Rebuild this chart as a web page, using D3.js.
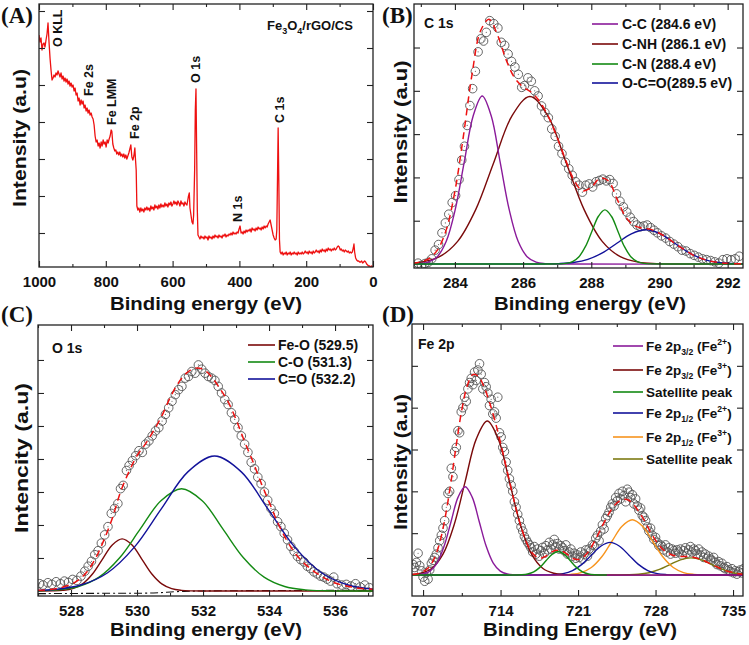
<!DOCTYPE html>
<html><head><meta charset="utf-8">
<script src="https://cdn.jsdelivr.net/npm/d3@7"></script>
<style>
body{margin:0;background:#fff;}
svg{font-family:"Liberation Sans",Arial,Helvetica,sans-serif;}
</style></head><body>
<svg id="chart" width="749" height="645"></svg>
<script>
// ---------------- (A) survey spectrum ----------------
const surveyTicks = [1000, 800, 600, 400, 200, 0];
const surveyMinor = [900, 700, 500, 300, 100];
const surveySpectrum = [
[1000,235],[997,228],[994,232],[991,220],[988,226],[985,227],[982,223],[979,230],[976,236],[973,247],[970,228],[967,212],[964,200],[961,190],[958,192],[955,195],[952,193],[949,197],[946,195],[943,199],[940,196],[937,193],[934,197],[931,191],[928,194],[925,189],[922,192],[919,188],[916,191],[913,186],[910,189],[907,184],[904,187],[901,183],[898,185],[895,179],[892,182],[889,175],[886,177],[883,169],[880,172],[877,165],[874,170],[871,166],[868,169],[865,162],[862,165],[859,159],[856,162],[853,157],[850,160],[847,155],[844,157],[841,153],[838,151],[835,145],[832,134],[829,128],[826,130],[823,124],[820,127],[817,122],[814,128],[811,124],[808,130],[805,126],[802,128],[799,123],[796,130],[793,127],[790,131],[787,134],[784,140],[782,139],[779,126],[776,122],[773,119],[770,120],[767,116],[764,118],[761,115],[758,118],[755,114],[752,116],[749,113],[746,116],[743,112],[740,115],[737,111],[734,114],[731,117],[728,121],[725,125],[722,113],[719,110],[716,114],[713,122],[711,110],[709,100],[707,64],
[704,60],[701,62],[698,58],[695,62],[692,59],[689,61],[686,58],[683,62],[680,60],[677,63],[674,60],[671,62],[668,59],[665,64],[662,61],[659,63],[656,60],[653,65],[650,62],[647,64],[644,61],[641,65],[638,62],[635,66],[632,63],[629,65],[626,63],[623,67],[620,64],[617,66],[614,63],[611,67],[608,65],[605,68],[602,64],[599,66],[596,69],[593,66],[590,68],[587,65],[584,69],[581,67],[578,64],[575,69],[572,66],[569,67],[566,64],[563,68],[560,66],[557,65],[553,73],[550,77],[548,62],[545,55],[542,48],[539,46],[537,55],[534,100],[532,160],[530,181],[528,120],[526,60],[524,35],
[521,33],[518,31],[515,34],[512,32],[509,33],[506,31],[503,34],[500,32],[497,33],[494,30],[491,34],[488,32],[485,33],[482,31],[479,34],[476,32],[473,35],[470,33],[467,34],[464,32],[461,35],[458,33],[455,34],[452,32],[449,35],[446,34],[443,36],[440,33],[437,35],[434,34],[431,36],[428,35],[425,37],[422,35],[419,38],[416,36],[413,37],[410,36],[407,38],[404,37],[401,41],[398,44],[395,37],[392,38],[389,36],[386,39],[383,37],[380,40],[377,38],[374,40],[371,39],[368,41],[365,38],[362,42],[359,40],[356,41],[353,39],[350,42],[347,40],[344,43],[341,41],[338,42],[335,40],[332,43],[329,41],[326,44],[323,42],[320,44],[317,43],[314,46],[311,48],[308,50],[305,45],[302,40],[299,35],[296,32],[293,30],[290,31],[288,40],[286,90],[284,142],[282,90],[280,30],[278,18],
[275,16],[272,18],[269,15],[266,17],[263,16],[260,18],[257,15],[254,17],[251,16],[248,18],[245,15],[242,17],[239,16],[236,18],[233,16],[230,17],[227,15],[224,18],[221,16],[218,17],[215,16],[212,18],[209,16],[206,17],[203,19],[200,17],[197,18],[194,16],[191,19],[188,17],[185,18],[182,16],[179,19],[176,17],[173,18],[170,20],[167,18],[164,19],[161,17],[158,20],[155,18],[152,21],[149,19],[146,20],[143,18],[140,21],[137,19],[134,22],[131,20],[128,21],[125,19],[122,21],[119,20],[116,22],[113,20],[110,21],[107,23],[104,24],[101,23],[98,20],[95,21],[92,19],[89,20],[86,18],[83,20],[80,19],[77,18],[74,19],[71,17],[68,18],[65,17],[62,18],[59,22],[57,26],[55,18],[52,12],[49,10],[46,9],[43,9],[40,8],[37,8],[34,9],[31,7],[28,8],[25,9],[22,8],[19,6],[16,5],[13,4],[10,4],[7,3],[4,4],[1,3],[0,3]];
const surveyPeakNames = ["O KLL", "Fe 2s", "Fe LMM", "Fe 2p", "O 1s", "N 1s", "C 1s"];
const surveyPeakEnergy = [946, 853, 784, 713, 530, 407, 281];
const surveyPeakLevel = [223, 174, 145, 131, 187, 48, 147];

// ---------------- (B) C 1s ----------------
const c1sTicks = [284, 286, 288, 290, 292];
const c1sMinor = [283, 285, 287, 289, 291];
const c1sData = [[282.92,0.02],[283.02,-0.03],[283.12,0.01],[283.22,0.04],[283.32,0.12],[283.42,0.32],[283.52,0.45],[283.62,0.72],[283.72,0.95],[283.82,1.15],[283.92,1.42],[284.02,1.58],[284.12,1.95],[284.2,2.4],[284.28,2.72],[284.36,3.2],[284.44,3.66],[284.52,4.05],[284.6,4.45],[284.68,4.9],[284.76,5.2],[284.84,5.15],[284.92,5.35],[285.02,5.62],[285.14,5.55],[285.26,5.45],[285.36,5.12],[285.46,5.05],[285.56,4.85],[285.66,4.68],[285.76,4.55],[285.86,4.38],[285.96,4.08],[286.04,4.12],[286.14,4.3],[286.24,4.22],[286.34,4.0],[286.44,3.88],[286.54,3.65],[286.64,3.5],[286.74,3.38],[286.84,3.12],[286.94,2.95],[287.04,2.72],[287.14,2.55],[287.24,2.35],[287.34,2.2],[287.44,2.05],[287.54,1.9],[287.64,1.82],[287.74,1.66],[287.84,1.82],[287.94,1.85],[288.04,1.78],[288.14,1.9],[288.24,1.93],[288.34,1.96],[288.44,1.92],[288.54,1.95],[288.64,1.86],[288.74,1.62],[288.84,1.45],[288.94,1.32],[289.04,1.2],[289.14,1.08],[289.24,0.98],[289.34,0.9],[289.44,0.86],[289.54,0.88],[289.64,0.9],[289.74,0.84],[289.84,0.78],[289.94,0.72],[290.06,0.65],[290.18,0.6],[290.3,0.52],[290.42,0.46],[290.54,0.4],[290.66,0.32],[290.78,0.3],[290.9,0.24],[291.02,0.2],[291.14,0.16],[291.26,0.12],[291.38,0.1],[291.5,0.08],[291.62,0.05],[291.74,0.02],[291.86,0.1],[291.98,0.12],[292.1,0.1],[292.22,0.12],[292.34,0.18]];
const c1sEnvelope = [[282.75,0.02],[283,0.05],[283.25,0.13],[283.5,0.34],[283.75,0.8],[284,1.68],[284.25,2.96],[284.5,4.37],[284.75,5.38],[285,5.65],[285.25,5.29],[285.5,4.72],[285.75,4.3],[286,4.09],[286.25,3.96],[286.5,3.74],[286.75,3.39],[287,2.92],[287.25,2.4],[287.5,1.93],[287.75,1.69],[288,1.77],[288.25,1.98],[288.5,1.92],[288.75,1.51],[289,1.1],[289.25,0.89],[289.5,0.83],[289.75,0.8],[290,0.71],[290.25,0.59],[290.5,0.45],[290.75,0.32],[291,0.2],[291.25,0.12],[291.5,0.065],[291.75,0.032],[292,0.015],[292.25,0.006],[292.5,0.002]];
const c1sCC = [[282.75,0],[282.956,0.009],[283.219,0.043],[283.483,0.17],[283.746,0.525],[284.01,1.26],[284.273,2.353],[284.537,3.424],[284.8,3.88],[285.064,3.424],[285.327,2.353],[285.591,1.26],[285.854,0.525],[286.118,0.17],[286.381,0.043],[286.645,0.009],[287.2,0],[292.5,0]];
const c1sCNH = [[282.49,0.009],[283.02,0.043],[283.55,0.17],[284.08,0.524],[284.61,1.257],[285.14,2.347],[285.67,3.415],[286.2,3.87],[286.73,3.415],[287.26,2.347],[287.79,1.257],[288.32,0.524],[288.85,0.17],[289.38,0.043],[289.91,0.009],[290.5,0],[292.5,0]];
const c1sCN = [[282.75,0],[286.6,0],[287.07,0.003],[287.26,0.014],[287.45,0.055],[287.64,0.169],[287.83,0.406],[288.02,0.758],[288.21,1.103],[288.4,1.25],[288.59,1.103],[288.78,0.758],[288.97,0.406],[289.16,0.169],[289.35,0.055],[289.54,0.014],[289.73,0.003],[290.2,0],[292.5,0]];
const c1sOCO = [[282.75,0],[286.1,0],[286.625,0.002],[287.05,0.009],[287.475,0.035],[287.9,0.107],[288.325,0.257],[288.75,0.479],[289.175,0.697],[289.6,0.79],[290.025,0.697],[290.45,0.479],[290.875,0.257],[291.3,0.107],[291.725,0.035],[292.15,0.009],[292.575,0.002]];
const c1sLegend = ["C-C (284.6 eV)", "C-NH (286.1 eV)", "C-N (288.4 eV)", "O-C=O(289.5 eV)"];

// ---------------- (C) O 1s ----------------
const o1sTicks = [528, 530, 532, 534, 536];
const o1sMinor = [527, 529, 531, 533, 535, 537];
const o1sData = [[527.05,0.22],[527.15,0.18],[527.3,0.25],[527.42,0.2],[527.55,0.28],[527.68,0.22],[527.8,0.3],[527.92,0.26],[528.05,0.35],[528.18,0.32],[528.3,0.45],[528.42,0.6],[528.52,0.75],[528.62,0.9],[528.72,1.1],[528.82,1.22],[528.92,1.45],[529.02,1.7],[529.12,1.95],[529.22,2.35],[529.32,2.5],[529.42,2.65],[529.5,3.1],[529.58,3.2],[529.68,3.65],[529.76,3.8],[529.86,3.95],[529.96,4.1],[530.06,4.25],[530.16,4.2],[530.26,4.45],[530.36,4.55],[530.46,4.7],[530.56,4.85],[530.66,4.95],[530.76,5.15],[530.86,5.35],[530.96,5.55],[531.06,5.75],[531.16,5.95],[531.26,6.1],[531.36,6.2],[531.46,6.45],[531.56,6.5],[531.66,6.65],[531.76,6.6],[531.86,6.85],[531.96,6.72],[532.06,6.6],[532.16,6.5],[532.26,6.45],[532.36,6.38],[532.46,6.2],[532.56,6.0],[532.66,5.8],[532.76,5.65],[532.86,5.4],[532.96,5.2],[533.06,4.95],[533.16,4.7],[533.26,4.45],[533.36,4.2],[533.46,3.9],[533.56,3.7],[533.66,3.45],[533.76,3.25],[533.86,3.0],[533.96,2.75],[534.06,2.5],[534.16,2.35],[534.26,2.1],[534.36,1.95],[534.46,1.75],[534.56,1.55],[534.66,1.35],[534.76,1.2],[534.86,1.05],[534.96,0.95],[535.06,0.88],[535.16,0.75],[535.26,0.68],[535.36,0.58],[535.46,0.52],[535.56,0.45],[535.66,0.42],[535.76,0.36],[535.86,0.3],[535.96,0.42],[536.06,0.22],[536.2,0.18],[536.34,0.2],[536.48,0.15],[536.62,0.22],[536.76,0.12],[536.9,0.18],[537.04,0.1]];
const o1sEnvelope = [[527,0.02],[527.5,0.06],[528,0.2],[528.25,0.35],[528.5,0.6],[528.75,1.0],[529,1.55],[529.25,2.2],[529.5,3.0],[529.75,3.6],[530,4.1],[530.25,4.45],[530.5,4.85],[530.75,5.3],[531,5.85],[531.25,6.3],[531.5,6.6],[531.75,6.75],[532,6.72],[532.25,6.5],[532.5,6.15],[532.75,5.75],[533,5.2],[533.25,4.55],[533.5,3.95],[533.75,3.3],[534,2.7],[534.25,2.1],[534.5,1.6],[534.75,1.2],[535,0.9],[535.25,0.68],[535.5,0.5],[535.75,0.35],[536,0.24],[536.25,0.17],[536.5,0.12],[536.75,0.08],[537.15,0.05]];
const o1sFeO = [[527,0],[527.45,0.003],[527.75,0.018],[528.05,0.069],[528.35,0.214],[528.65,0.513],[528.95,0.958],[529.25,1.394],[529.55,1.58],[529.85,1.394],[530.15,0.958],[530.45,0.513],[530.75,0.214],[531.05,0.069],[531.35,0.018],[531.65,0.003],[532.2,0],[537.15,0]];
const o1sCO = [[526.975,0.007],[527.6,0.034],[528.225,0.136],[528.85,0.419],[529.475,1.007],[530.1,1.88],[530.725,2.736],[531.35,3.1],[531.975,2.736],[532.6,1.88],[533.225,1.007],[533.85,0.419],[534.475,0.136],[535.1,0.034],[535.725,0.007],[536.4,0],[537.15,0]];
const o1sCdO = [[526.68,0.009],[527.49,0.045],[528.3,0.18],[529.11,0.553],[529.92,1.328],[530.73,2.481],[531.54,3.609],[532.35,4.09],[533.16,3.609],[533.97,2.481],[534.78,1.328],[535.59,0.553],[536.4,0.18],[537.21,0.045]];
const o1sBackground = [[527,-0.08],[529,-0.07],[530.5,-0.06],[531.2,-0.02],[532,0.0],[537.15,0.02]];
const o1sLegend = ["Fe-O (529.5)", "C-O (531.3)", "C=O (532.2)"];

// ---------------- (D) Fe 2p ----------------
const fe2pTicks = [707, 714, 721, 728, 735];
const fe2pMinor = [710.5, 717.5, 724.5, 731.5];
const fe2pStart = 706.1, fe2pStep = 0.15;
const fe2pCounts = [
0.25,0.18,0.3,0.52,0.22,0.1,-0.05,-0.15,0.05,-0.1,
0.12,0.28,0.35,0.42,0.5,0.65,0.82,0.95,1.12,1.3,
1.62,1.95,2.0,2.55,2.35,2.95,3.05,3.45,3.4,3.9,
4.0,4.25,4.15,4.45,4.6,4.7,4.55,4.85,4.65,4.9,
5.05,4.8,4.45,4.6,4.5,4.35,4.05,4.2,3.85,3.9,
3.75,4.25,3.4,3.3,3.05,2.95,2.7,2.5,2.3,2.15,
2.0,1.75,1.62,1.45,1.3,1.15,1.05,0.92,0.85,0.78,
0.72,0.65,0.55,0.68,0.5,0.62,0.45,0.58,0.66,0.52,
0.7,0.6,0.78,0.62,0.72,0.85,0.68,0.75,0.62,0.7,
0.65,0.58,0.72,0.5,0.55,0.62,0.45,0.52,0.4,0.48,
0.42,0.55,0.38,0.5,0.6,0.45,0.62,0.58,0.72,0.7,
0.88,0.95,0.82,1.05,1.2,1.1,1.35,1.42,1.5,1.62,
1.7,1.65,1.85,1.78,1.95,1.82,2.0,1.9,1.75,2.05,
1.98,1.85,1.92,1.7,1.82,1.65,1.55,1.6,1.42,1.38,
1.3,1.15,1.05,1.12,0.95,0.85,0.9,0.78,0.7,0.72,
0.68,0.6,0.72,0.55,0.65,0.5,0.62,0.58,0.52,0.6,
0.55,0.62,0.48,0.58,0.65,0.52,0.6,0.68,0.55,0.62,
0.58,0.5,0.62,0.48,0.55,0.42,0.5,0.4,0.45,0.38,
0.35,0.42,0.3,0.25,0.32,0.22,0.28,0.18,0.15,0.2,
0.12,0.08,0.15,0.05,0.1,0.02,0.08,0.12,0.05,0.15];
const fe2pEnvelope = [[706,0.01],[706.5,0.03],[707,0.08],[707.5,0.18],[708,0.39],[708.5,0.77],[709,1.38],[709.5,2.19],[710,3.11],[710.5,3.95],[711,4.53],[711.5,4.79],[712,4.75],[712.5,4.5],[713,4.13],[713.5,3.68],[714,3.16],[714.5,2.59],[715,2.02],[715.5,1.48],[716,1.03],[716.5,0.69],[717,0.49],[717.5,0.4],[718,0.44],[718.5,0.53],[719,0.59],[719.5,0.58],[720,0.5],[720.5,0.4],[721,0.37],[721.5,0.43],[722,0.58],[722.5,0.81],[723,1.07],[723.5,1.33],[724,1.56],[724.5,1.72],[725,1.8],[725.5,1.8],[726,1.69],[726.5,1.51],[727,1.3],[727.5,1.05],[728,0.83],[728.5,0.66],[729,0.54],[729.5,0.48],[730,0.45],[730.5,0.44],[731,0.44],[731.5,0.42],[732,0.38],[732.5,0.33],[733,0.26],[733.5,0.2],[734,0.14],[734.5,0.09],[735,0.06],[735.5,0.03],[735.9,0.02]];
const fe2pFe2p32a = [[706,0],[706.355,0.005],[706.99,0.023],[707.625,0.093],[708.26,0.285],[708.895,0.685],[709.53,1.28],[710.165,1.862],[710.8,2.11],[711.435,1.862],[712.07,1.28],[712.705,0.685],[713.34,0.285],[713.975,0.093],[714.61,0.023],[715.245,0.005],[716,0],[735.9,0]];
const fe2pFe2p32b = [[705.8,0.008],[706.8,0.041],[707.8,0.162],[708.8,0.498],[709.8,1.195],[710.8,2.232],[711.8,3.248],[712.8,3.68],[713.8,3.248],[714.8,2.232],[715.8,1.195],[716.8,0.498],[717.8,0.162],[718.8,0.041],[719.8,0.008],[720.8,0],[735.9,0]];
const fe2pSat1 = [[706,0],[714.8,0],[715.35,0.001],[715.9,0.006],[716.45,0.025],[717,0.076],[717.55,0.182],[718.1,0.34],[718.65,0.494],[719.2,0.56],[719.75,0.494],[720.3,0.34],[720.85,0.182],[721.4,0.076],[721.95,0.025],[722.5,0.006],[723.05,0.001],[723.6,0]];
const fe2pFe2p12a = [[706,0],[717.2,0],[717.95,0.002],[718.8,0.009],[719.65,0.034],[720.5,0.106],[721.35,0.253],[722.2,0.473],[723.05,0.688],[723.9,0.78],[724.75,0.688],[725.6,0.473],[726.45,0.253],[727.3,0.106],[728.15,0.034],[729,0.009],[729.85,0.002],[730.6,0],[735.9,0]];
const fe2pFe2p12b = [[706,0],[718.6,0],[719.425,0.003],[720.35,0.015],[721.275,0.058],[722.2,0.179],[723.125,0.429],[724.05,0.801],[724.975,1.165],[725.9,1.32],[726.825,1.165],[727.75,0.801],[728.675,0.429],[729.6,0.179],[730.525,0.058],[731.45,0.015],[732.375,0.003],[733.2,0],[735.9,0]];
const fe2pSat2 = [[706,0],[723.8,0],[724.55,0.001],[725.5,0.005],[726.45,0.018],[727.4,0.055],[728.35,0.133],[729.3,0.249],[730.25,0.362],[731.2,0.41],[732.15,0.362],[733.1,0.249],[734.05,0.133],[735,0.055],[735.95,0.018]];
const fe2pLegend = [
  [["Fe 2p"],["3/2","sub"],[" (Fe"],["2+","sup"],[")"]],
  [["Fe 2p"],["3/2","sub"],[" (Fe"],["3+","sup"],[")"]],
  [["Satellite peak"]],
  [["Fe 2p"],["1/2","sub"],[" (Fe"],["2+","sup"],[")"]],
  [["Fe 2p"],["1/2","sub"],[" (Fe"],["3+","sup"],[")"]],
  [["Satellite peak"]]];

// ---------------- drawing ----------------
const svg = d3.select("#chart");
const COL = {red:"#ee1111", purple:"#8a1a9a", brown:"#7a0a0a", green:"#138a13", blue:"#12129a", orange:"#f7941d", olive:"#7d7a12", frame:"#222"};

function makePanel(o){
  const x = d3.scaleLinear().domain(o.xDomain).range([o.left, o.right]);
  const y = d3.scaleLinear().domain(o.yDomain).range([o.bottom, o.top]);
  const g = svg.append("g");
  const cid = "clip" + o.id;
  svg.append("clipPath").attr("id", cid).append("rect")
    .attr("x", o.left).attr("y", o.top).attr("width", o.right - o.left).attr("height", o.bottom - o.top);
  const plot = g.append("g").attr("clip-path", `url(#${cid})`);
  const axes = g.append("g").attr("color", COL.frame);
  const put = (gen, tr) => axes.append("g").attr("transform", tr).call(gen).call(s => s.select(".domain").remove());
  const bx = put(d3.axisBottom(x).tickValues(o.xTicks).tickSize(-6).tickPadding(9).tickFormat(d3.format("d")), `translate(0,${o.bottom})`);
  bx.selectAll("text").attr("font-size", 15).attr("font-weight", "bold").attr("fill", "#111")
    .attr("font-family", '"Liberation Sans",Arial,sans-serif');
  put(d3.axisBottom(x).tickValues(o.xMinor).tickSize(-3).tickFormat(""), `translate(0,${o.bottom})`);
  put(d3.axisTop(x).tickValues(o.xTicks).tickSize(-6).tickFormat(""), `translate(0,${o.top})`);
  put(d3.axisTop(x).tickValues(o.xMinor).tickSize(-3).tickFormat(""), `translate(0,${o.top})`);
  put(d3.axisLeft(y).tickValues(o.yTicks).tickSize(-6).tickFormat(""), `translate(${o.left},0)`);
  put(d3.axisRight(y).tickValues(o.yTicks).tickSize(-6).tickFormat(""), `translate(${o.right},0)`);
  axes.selectAll(".tick line").attr("stroke-width", 1.1);
  return {x, y, g, plot, o};
}
function frame(p){
  p.g.append("rect").attr("x", p.o.left).attr("y", p.o.top)
    .attr("width", p.o.right - p.o.left).attr("height", p.o.bottom - p.o.top)
    .attr("fill", "none").attr("stroke", COL.frame).attr("stroke-width", 1.3);
}
function titles(p, xt, xcx, xby, yt, ycx, ycy, xw, yw){
  svg.append("text").attr("x", xcx).attr("y", xby).attr("text-anchor", "middle")
    .attr("font-size", 18.5).attr("font-weight", "bold").attr("fill", "#111")
    .attr("textLength", xw).attr("lengthAdjust", "spacingAndGlyphs").text(xt);
  svg.append("text").attr("transform", `translate(${ycx},${ycy}) rotate(-90)`).attr("text-anchor", "middle")
    .attr("font-size", 19).attr("font-weight", "bold").attr("fill", "#111")
    .attr("textLength", yw).attr("lengthAdjust", "spacingAndGlyphs").text(yt);
}
function panelLetter(t, x, y){
  svg.append("text").attr("x", x).attr("y", y).attr("font-family", '"Liberation Serif","Times New Roman",serif')
    .attr("font-size", 23).attr("font-weight", "bold").attr("fill", "#111").text(t);
}
function curve(p, data, color, width, dash){
  const line = d3.line().x(d => p.x(d[0])).y(d => p.y(d[1])).curve(d3.curveCatmullRom.alpha(0.5));
  const path = p.plot.append("path").datum(data).attr("d", line).attr("fill", "none")
    .attr("stroke", color).attr("stroke-width", width);
  if (dash) path.attr("stroke-dasharray", dash);
  return path;
}
function scatter(p, data){
  const gg = p.plot.append("g");
  gg.selectAll("circle.o").data(data).join("circle").attr("class", "o")
    .attr("cx", d => p.x(d[0])).attr("cy", d => p.y(d[1])).attr("r", 4.3)
    .attr("fill", "none").attr("stroke", "#555").attr("stroke-width", 0.9);
  gg.selectAll("circle.c").data(data).join("circle").attr("class", "c")
    .attr("cx", d => p.x(d[0])).attr("cy", d => p.y(d[1])).attr("r", 0.6).attr("fill", "#666");
}
function legend(p, entries, colors, x0, x1, tx, rows, fs){
  entries.forEach((parts, i) => {
    const cy = rows[i];
    p.g.append("line").attr("x1", x0).attr("x2", x1).attr("y1", cy).attr("y2", cy)
      .attr("stroke", colors[i]).attr("stroke-width", 1.6);
    const t = p.g.append("text").attr("x", tx).attr("y", cy + fs * 0.36)
      .attr("font-size", fs).attr("font-weight", "bold").attr("fill", "#111");
    const arr = typeof parts === "string" ? [[parts]] : parts;
    let shift = 0;
    arr.forEach(([s, kind]) => {
      const target = kind === "sub" ? 4 : kind === "sup" ? -6 : 0;
      t.append("tspan").attr("dy", target - shift).attr("font-size", kind ? fs * 0.64 : fs).text(s);
      shift = target;
    });
  });
}

// ---- Panel A ----
const pA = makePanel({id:"A", left:39, right:373, top:4, bottom:267, xDomain:[1000,0], yDomain:[3,266],
  xTicks:surveyTicks, xMinor:surveyMinor, yTicks:[37,74,111,148,185,222,259]});
pA.plot.append("path").datum(surveySpectrum)
  .attr("d", d3.line().x(d => pA.x(d[0])).y(d => pA.y(d[1])))
  .attr("fill", "none").attr("stroke", COL.red).attr("stroke-width", 1.3).attr("stroke-linejoin", "round");
surveyPeakNames.forEach((n, i) => {
  pA.g.append("text").attr("transform", `translate(${pA.x(surveyPeakEnergy[i]) + 4.5},${pA.y(surveyPeakLevel[i])}) rotate(-90)`)
    .attr("font-size", 12.5).attr("font-weight", "bold").attr("fill", "#111").text(n);
});
{
  const t = pA.g.append("text").attr("x", 267).attr("y", 30).attr("font-size", 13).attr("font-weight", "bold").attr("fill", "#111");
  t.append("tspan").text("Fe");
  t.append("tspan").attr("dy", 4).attr("font-size", 9).text("3");
  t.append("tspan").attr("dy", -4).text("O");
  t.append("tspan").attr("dy", 4).attr("font-size", 9).text("4");
  t.append("tspan").attr("dy", -4).text("/rGO/CS");
}
frame(pA);
titles(pA, "Binding energy (eV)", 206, 310, "Intensity (a.u)", 26, 138, 192, 138);
panelLetter("(A)", 1, 23);

// ---- Panel B ----
const pB = makePanel({id:"B", left:414, right:743, top:4, bottom:268, xDomain:[282.8,292.45], yDomain:[-0.092,6.005],
  xTicks:c1sTicks, xMinor:c1sMinor, yTicks:[1,2,3,4,5]});
scatter(pB, c1sData);
curve(pB, c1sCNH, COL.brown, 1.4);
curve(pB, c1sCC, COL.purple, 1.4);
curve(pB, c1sOCO, COL.blue, 1.4);
curve(pB, c1sCN, COL.green, 1.4);
curve(pB, c1sEnvelope, COL.red, 1.5, "7,5");
legend(pB, c1sLegend, [COL.purple, COL.brown, COL.green, COL.blue], 592, 618, 622, [24, 44, 64, 83], 14);
pB.g.append("text").attr("x", 424).attr("y", 28).attr("font-size", 14).attr("font-weight", "bold").attr("fill", "#111").text("C 1s");
frame(pB);
titles(pB, "Binding energy (eV)", 590, 310, "Intensity (a.u)", 407, 132, 192, 143);
panelLetter("(B)", 382, 23);

// ---- Panel C ----
const pC = makePanel({id:"C", left:38, right:373, top:325, bottom:596, xDomain:[527,537.15], yDomain:[-0.152,8.06],
  xTicks:o1sTicks, xMinor:o1sMinor, yTicks:[1,2,3,4,5,6,7]});
scatter(pC, o1sData);
curve(pC, o1sBackground, "#111", 1.1, "8,3,2,3");
curve(pC, o1sFeO, COL.brown, 1.4);
curve(pC, o1sCO, COL.green, 1.4);
curve(pC, o1sCdO, COL.blue, 1.4);
curve(pC, o1sEnvelope, COL.red, 1.5, "7,5");
legend(pC, o1sLegend, [COL.brown, COL.green, COL.blue], 248, 275, 278, [345, 362, 379], 14);
pC.g.append("text").attr("x", 52).attr("y", 353).attr("font-size", 14).attr("font-weight", "bold").attr("fill", "#111").text("O 1s");
frame(pC);
titles(pC, "Binding energy (eV)", 206, 636, "Intencity (a.u)", 28, 458, 192, 150);
panelLetter("(C)", 1, 322);

// ---- Panel D ----
const pD = makePanel({id:"D", left:412, right:743, top:324, bottom:596, xDomain:[706,735.9], yDomain:[-0.502,6.0],
  xTicks:fe2pTicks, xMinor:fe2pMinor, yTicks:[1,2,3,4,5]});
const fe2pData = fe2pCounts.map((v, i) => [fe2pStart + i * fe2pStep, v]);
scatter(pD, fe2pData);
curve(pD, fe2pSat2, COL.olive, 1.4);
curve(pD, fe2pFe2p12b, COL.orange, 1.4);
curve(pD, fe2pFe2p12a, COL.blue, 1.4);
curve(pD, fe2pFe2p32b, COL.brown, 1.4);
curve(pD, fe2pFe2p32a, COL.purple, 1.4);
curve(pD, fe2pSat1, COL.green, 1.4);
curve(pD, fe2pEnvelope, COL.red, 1.5, "7,5");
legend(pD, fe2pLegend, [COL.purple, COL.brown, COL.green, COL.blue, COL.orange, COL.olive], 613, 643, 646,
  [346, 370, 392, 413, 437, 459], 13.5);
pD.g.append("text").attr("x", 418).attr("y", 349).attr("font-size", 14).attr("font-weight", "bold").attr("fill", "#111").text("Fe 2p");
frame(pD);
titles(pD, "Binding Energy (eV)", 580, 636, "Intensity (a.u)", 407, 462, 194, 136);
panelLetter("(D)", 382, 322);
</script>
</body></html>
